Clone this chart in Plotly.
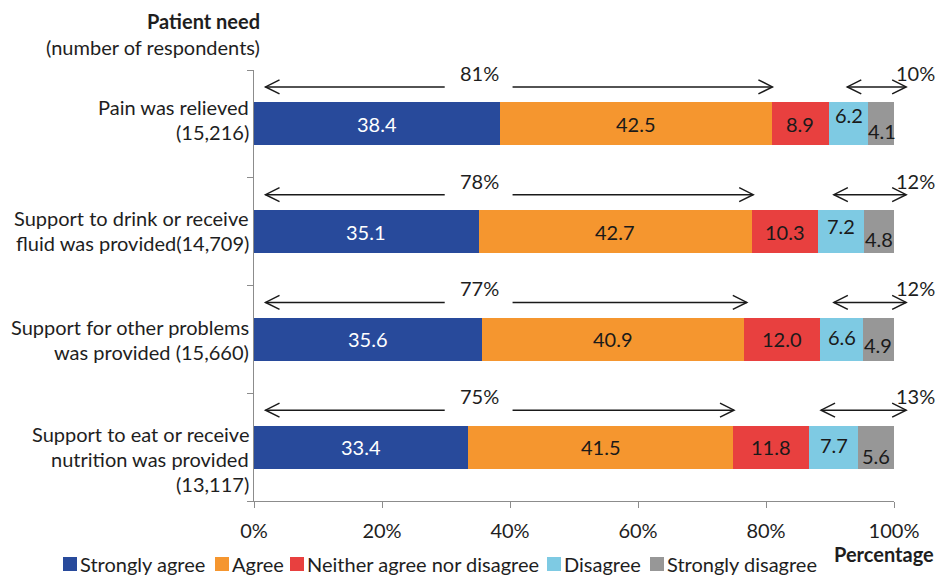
import plotly.graph_objects as go

# ---- data -------------------------------------------------------------
categories = [
    "Pain was relieved<br>(15,216)",
    "Support to drink or receive<br>fluid was provided(14,709)",
    "Support for other problems<br>was provided (15,660)",
    "Support to eat or receive<br>nutrition was provided<br>(13,117)",
]
series_names = ["Strongly agree", "Agree", "Neither agree nor disagree",
                "Disagree", "Strongly disagree"]
strongly_agree = [38.4, 35.1, 35.6, 33.4]
agree = [42.5, 42.7, 40.9, 41.5]
neither = [8.9, 10.3, 12.0, 11.8]
disagree = [6.2, 7.2, 6.6, 7.7]
strongly_disagree = [4.1, 4.8, 4.9, 5.6]
agree_total = [81, 78, 77, 75]
disagree_total = [10, 12, 12, 13]
x_ticks = [0, 20, 40, 60, 80, 100]

series_values = [strongly_agree, agree, neither, disagree, strongly_disagree]
colors = ["#284a9b", "#f5962f", "#e8403f", "#7ecae3", "#979797"]
label_colors = ["#ffffff", "#1a1a1a", "#1a1a1a", "#1a1a1a", "#1a1a1a"]

# ---- layout geometry ----------------------------------------------------
W, H = 936, 575
ML, MR, MT, MB = 254, 42, 70, 74
PW, PH = W - ML - MR, H - MT - MB
FONT = "Lato, 'Open Sans', sans-serif"
FS = 20
TXT = "#1e1e1e"
n = len(categories)
idx = list(range(n))


def px_x(px):
    return (px - ML) / PW


def px_y(py):
    return (H - MB - py) / PH


def row_center_px(i):
    return MT + (i + 0.5) * PH / n


def text_at(px, py, text, anchor="center", size=FS, color=TXT, xshift=0):
    return dict(x=px_x(px), y=px_y(py), xref="paper", yref="paper",
                xanchor=anchor, yanchor="middle", xshift=xshift, text=text,
                showarrow=False, font=dict(family=FONT, size=size, color=color))


# vertical nudges (px, downwards) for labels of the two small segments
small_label_nudge = {3: [-9, -6, -2, -2], 4: [7, 7, 6, 9]}
# category label block offset (px, downwards) from bar centre
cat_label_offset = [-4, -1, 0, 12]
cat_line_gap = 25
# left-group arrow gap (in %) where the percent label sits
gap_lo, gap_hi, gap_mid = 29.8, 40.4, 35.3
left_tip = 1.8
# right-group arrow extents (in %)
right_start = [92.7, 90.6, 90.6, 88.6]
right_end = 101.9

fig = go.Figure()
for s, (name, vals, col) in enumerate(zip(series_names, series_values, colors)):
    fig.add_trace(go.Bar(
        y=idx, x=vals, name=name, orientation="h", width=0.4,
        marker=dict(color=col, line=dict(width=0)),
        showlegend=False, hoverinfo="x+name",
    ))

annotations = []
shapes = []

# segment value labels
for i in idx:
    base = 0.0
    for s, vals in enumerate(series_values):
        v = vals[i]
        shift = small_label_nudge.get(s, [0] * n)[i]
        annotations.append(dict(
            x=base + v / 2, y=i, xref="x", yref="y", text=f"{v:.1f}",
            xanchor="center", yanchor="middle",
            showarrow=False, yshift=-shift,
            font=dict(family=FONT, size=FS, color=label_colors[s]),
        ))
        base += v

# category labels, one line at a time, right-aligned against the axis
for i, cat in enumerate(categories):
    lines = cat.split("<br>")
    cy = row_center_px(i) + cat_label_offset[i]
    first = cy - (len(lines) - 1) * cat_line_gap / 2
    for k, line in enumerate(lines):
        annotations.append(text_at(ML, first + k * cat_line_gap, line,
                                   anchor="right", xshift=-3))

line_style = dict(color="#1a1a1a", width=1.5)


def chevron(tip_pct, py, direction):
    """Open arrow head; direction -1 points left, +1 points right."""
    tx, ty = tip_pct / 100, px_y(py)
    dx = -direction * 14 / PW
    dy = 7 / PH
    return dict(type="path", xref="paper", yref="paper",
                path=f"M{tx + dx},{ty + dy} L{tx},{ty} L{tx + dx},{ty - dy}",
                line=line_style)


def hline(x0_pct, x1_pct, py):
    return dict(type="line", xref="paper", yref="paper",
                x0=x0_pct / 100, x1=x1_pct / 100,
                y0=px_y(py), y1=px_y(py), line=line_style)


for i in idx:
    cy = row_center_px(i)
    ay = cy - 37
    ly = cy - 51
    # agree group arrow
    shapes.append(hline(left_tip, gap_lo, ay))
    shapes.append(hline(gap_hi, agree_total[i], ay))
    shapes.append(chevron(left_tip, ay, -1))
    shapes.append(chevron(agree_total[i], ay, 1))
    annotations.append(text_at(ML + gap_mid / 100 * PW, ly,
                               f"{agree_total[i]}%"))
    # disagree group arrow
    shapes.append(hline(right_start[i], right_end, ay))
    shapes.append(chevron(right_start[i], ay, -1))
    shapes.append(chevron(right_end, ay, 1))
    annotations.append(text_at(915, ly, f"{disagree_total[i]}%"))

# titles
annotations += [
    text_at(ML, 21, "<b>Patient need</b>", anchor="right", xshift=8),
    text_at(ML, 47, "(number of respondents)", anchor="right", xshift=8),
    text_at(936, 554, "<b>Percentage</b>", anchor="right"),
]

# legend row
legend_left = [63, 215, 290, 547, 650]
leg_y = 564
for name, col, lx in zip(series_names, colors, legend_left):
    shapes.append(dict(type="rect", xref="paper", yref="paper",
                       x0=px_x(lx), x1=px_x(lx + 14),
                       y0=px_y(leg_y + 7), y1=px_y(leg_y - 7),
                       fillcolor=col, line=dict(width=0)))
    annotations.append(text_at(lx + 15, leg_y, name, anchor="left"))

fig.update_layout(
    width=W, height=H, barmode="stack",
    margin=dict(l=ML, r=MR, t=MT, b=MB, pad=0),
    plot_bgcolor="white", paper_bgcolor="white",
    font=dict(family=FONT, size=FS, color=TXT),
    xaxis=dict(range=[0, 100], tickvals=x_ticks,
               ticktext=[f"{t}%" for t in x_ticks],
               showline=True, linecolor="#8c8c8c", linewidth=1,
               ticks="outside", ticklen=6, tickcolor="#8c8c8c",
               showgrid=False, zeroline=False, ticklabelstandoff=6,
               tickfont=dict(family=FONT, size=FS, color=TXT)),
    yaxis=dict(range=[n - 0.5, -0.5],
               tickvals=[k - 0.5 for k in range(n + 1)],
               showticklabels=False, showline=True, linecolor="#8c8c8c",
               linewidth=1, ticks="outside", ticklen=6, tickcolor="#8c8c8c",
               showgrid=False, zeroline=False),
    annotations=annotations, shapes=shapes, showlegend=False,
)

fig.write_html("out.html")
